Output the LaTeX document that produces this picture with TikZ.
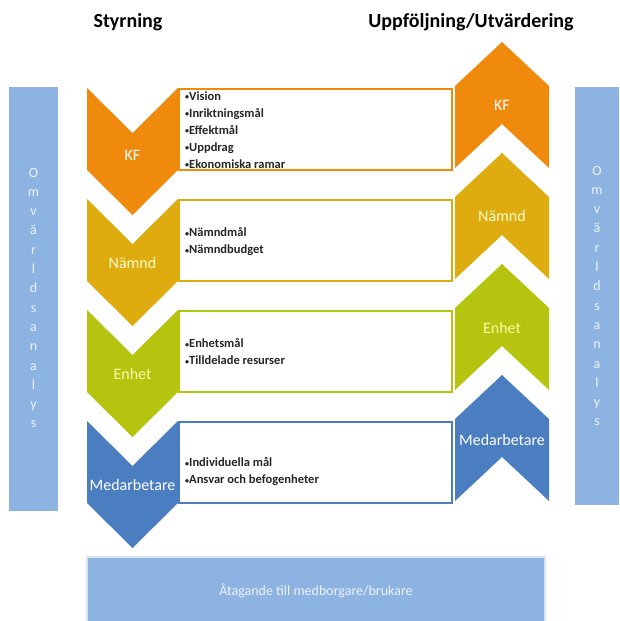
\documentclass[tikz,border=0pt]{standalone}
\usepackage{fontspec}
\setmainfont{Carlito}
\usepackage{xcolor}
\definecolor{kfcol}{RGB}{240,138,12}
\definecolor{namndcol}{RGB}{222,172,14}
\definecolor{enhetcol}{RGB}{181,196,14}
\definecolor{medcol}{RGB}{74,126,193}
\definecolor{barcol}{RGB}{141,179,226}
\definecolor{barline}{RGB}{218,228,240}
\definecolor{bartext}{RGB}{236,242,250}
\newcommand{\bul}{{\fontsize{8}{8}\selectfont\raisebox{0.5pt}{•}}}
\usetikzlibrary{positioning}

\begin{document}
\begin{tikzpicture}[x=1pt, y=-1pt,
    every node/.style={inner sep=0pt},
    title/.style={font=\bfseries\fontsize{20}{22}\selectfont, text=black},
    lvl/.style={font=\fontsize{16}{18}\selectfont, text=white},
    items/.style={anchor=west, align=left, font=\bfseries\fontsize{12.5}{17}\selectfont, text=black!85},
    itembox/.style={fill=white, line width=2pt},
    vert/.style={align=center, font=\fontsize{14}{19.3}\selectfont, text=bartext}]
    % 画布大小
    \useasboundingbox (0,0) rectangle (619,621);
    % 左右两侧竖条:Omvärldsanalys
    \fill[barcol] (9,87) rectangle (58,511);
    \fill[barcol] (575,87) rectangle (619,505);
    \node[vert] (omvL) at (33.5,298) {O\\m\\v\\ä\\r\\l\\d\\s\\a\\n\\a\\l\\y\\s};
    \node[vert] (omvR) at (597,296) {O\\m\\v\\ä\\r\\l\\d\\s\\a\\n\\a\\l\\y\\s};
    % 标题
    \node[title] (styr) at (128,22) {Styrning};
    \node[title] (uppf) at (471,22) {Uppföljning/Utvärdering};
    % 左侧:向下的箭头(Styrning),顶端 y0,每级相隔 111
    \fill[kfcol] (87,88) -- (132.5,133) -- (178,88) -- (178,170) -- (132.5,215) -- (87,170) -- cycle;
    \fill[namndcol] (87,199) -- (132.5,244) -- (178,199) -- (178,281) -- (132.5,326) -- (87,281) -- cycle;
    \fill[enhetcol] (87,310) -- (132.5,355) -- (178,310) -- (178,392) -- (132.5,437) -- (87,392) -- cycle;
    \fill[medcol] (87,421) -- (132.5,466) -- (178,421) -- (178,503) -- (132.5,548) -- (87,503) -- cycle;
    \node[lvl] (kfL) at (132.5,155) {KF};
    \node[lvl, text=white!80!yellow] (namndL) at (132.5,263) {Nämnd};
    \node[lvl, text=white!65!yellow] (enhetL) at (132.5,374) {Enhet};
    \node[lvl] (medL) at (132.5,485) {Medarbetare};
    % 中间:白色内容框
    \draw[itembox, draw=kfcol] (179,89) rectangle (452,170);
    \draw[itembox, draw=namndcol] (179,200) rectangle (452,281);
    \draw[itembox, draw=enhetcol] (179,311) rectangle (452,392);
    \draw[itembox, draw=medcol] (179,422) rectangle (452,503);
    \node[items] (kfItems) at (185,130) {\bul Vision\\\bul Inriktningsmål\\\bul Effektmål\\\bul Uppdrag\\\bul Ekonomiska ramar};
    \node[items] (namndItems) at (185,242) {\bul Nämndmål\\\bul Nämndbudget};
    \node[items] (enhetItems) at (185,352) {\bul Enhetsmål\\\bul Tilldelade resurser};
    \node[items] (medItems) at (185,472) {\bul Individuella mål\\\bul Ansvar och befogenheter};
    % 右侧:向上的箭头(Uppföljning),尖端 yp
    \fill[kfcol] (502,42) -- (549,86) -- (549,168) -- (502,124) -- (455,168) -- (455,86) -- cycle;
    \fill[namndcol] (502,153) -- (549,197) -- (549,279) -- (502,235) -- (455,279) -- (455,197) -- cycle;
    \fill[enhetcol] (502,264) -- (549,308) -- (549,390) -- (502,346) -- (455,390) -- (455,308) -- cycle;
    \fill[medcol] (502,375) -- (549,419) -- (549,501) -- (502,457) -- (455,501) -- (455,419) -- cycle;
    \node[lvl] (kfR) at (502,105) {KF};
    \node[lvl, text=white!80!yellow] (namndR) at (502,216) {Nämnd};
    \node[lvl, text=white!65!yellow] (enhetR) at (502,328) {Enhet};
    \node[lvl] (medR) at (502,440) {Medarbetare};
    % 底部:Åtagande
    \draw[fill=barcol, draw=barline, line width=1.5pt] (87,557) rectangle (545,625);
    \node[font=\fontsize{14}{16}\selectfont, text=bartext] (atag) at (316,591) {Åtagande till medborgare/brukare};
\end{tikzpicture}
\end{document}
